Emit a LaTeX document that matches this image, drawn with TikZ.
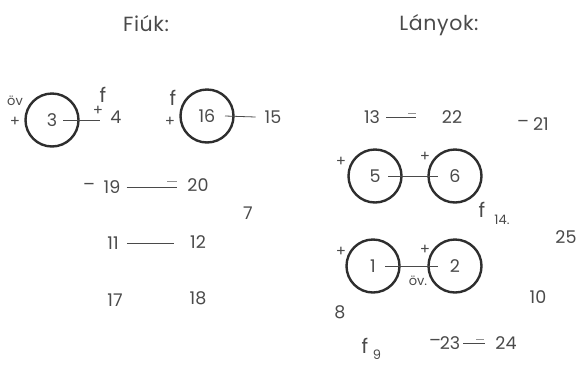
\documentclass[tikz,border=0pt]{standalone}
\usepackage{fontspec}
\setmainfont{Poppins}
\definecolor{ink}{HTML}{4A4A4A}
\definecolor{rim}{HTML}{2E2E2E}
\begin{document}
\begin{tikzpicture}[x=1pt,y=-1pt,
  every node/.style={text=ink,inner sep=0pt,font=\fontsize{17.5}{17.5}\selectfont},
  kid/.style={circle,draw=rim,line width=2.4pt,minimum size=53pt},
  tie/.style={draw=ink,line width=0.8pt},
  tick/.style={draw=ink!60,line width=0.6pt},
  sign/.style={font=\fontsize{15}{15}\selectfont},
  letter/.style={font=\fontsize{20}{20}\selectfont},
  sub/.style={font=\fontsize{13}{13}\selectfont},
  title/.style={font=\fontsize{20.5}{20.5}\selectfont\addfontfeature{LetterSpace=3}}]
  \useasboundingbox (0,0) rectangle (578,365);
  \node[title] (boys) at (146,24) {Fiúk:};
  \node[title] (girls) at (439,25) {Lányok:};
  % boys
  \node[kid] (c3) at (52,120) {3};
  \node[sub] (ov3) at (15,101) {öv};
  \node[sign] (pl3) at (15,122) {+};
  \node[letter] (f4) at (103,95) {f};
  \node[sign] (pl4) at (98,111) {+};
  \node (n4) at (116,117) {4};
  \coordinate (e4) at (100,120);
  \draw[tie] ([xshift=11pt]c3.center) -- (e4);
  \node[kid] (c16) at (207,116) {16};
  \node[letter] (f16) at (173,98) {f};
  \node[sign] (pl16) at (170,122) {+};
  \node (n15) at (273,117) {15};
  \draw[tie] ([xshift=18pt]c16.center) -- ([xshift=-9pt]n15.west);
  \node (m19) at (89,187) {–};
  \node (n19) at (112,187) {19};
  \node (n20) at (198,185) {20};
  \draw[tie,shorten <=6pt,shorten >=10pt] (n19.east) -- (n20.west |- n19.east);
  \draw[tick] (167,181) -- (177,181);
  \node (n7) at (248,213) {7};
  \node (n11) at (113,243) {11};
  \node (n12) at (198,242) {12};
  \draw[tie,shorten <=8pt,shorten >=16pt] (n11.east) -- (n12.west |- n11.east);
  \node (n17) at (115,300) {17};
  \node (n18) at (198,298) {18};
  % girls
  \node (n13) at (372,117) {13};
  \node (n22) at (452,117) {22};
  \draw[tie,shorten <=6pt,shorten >=26pt] (n13.east) -- (n22.west |- n13.east);
  \draw[tick] (408,113) -- (416,113);
  \node (m21) at (523,124) {–};
  \node (n21) at (541,124) {21};
  \node[kid] (c5) at (375,176) {5};
  \node[kid] (c6) at (455,176) {6};
  \node[sign] (pl5) at (341,162) {+};
  \node[sign] (pl6) at (425,157) {+};
  \draw[tie] ([xshift=13pt]c5.center) -- ([xshift=-17pt]c6.center);
  \node[letter] (f14) at (482,210) {f};
  \node[sub] (n14) at (502,220) {14.};
  \node (n25) at (566,237) {25};
  \node[kid] (c1) at (373,266) {1};
  \node[kid] (c2) at (455,266) {2};
  \node[sign] (pl1) at (341,252) {+};
  \node[sign] (pl2) at (425,250) {+};
  \node[sub] (ov2) at (418,281) {öv.};
  \draw[tie] ([xshift=12pt]c1.center) -- ([xshift=-17pt]c2.center);
  \node (n10) at (538,297) {10};
  \node (n8) at (340,312) {8};
  \node[letter] (f9) at (365,346) {f};
  \node[sub] (n9) at (377,355) {9};
  \node (m23) at (435,343) {–};
  \node (n23) at (450,343) {23};
  \node (n24) at (506,343) {24};
  \draw[tie,shorten <=3pt,shorten >=10pt] (n23.east) -- (n24.west |- n23.east);
  \draw[tick] (476,339) -- (484,339);
\end{tikzpicture}
\end{document}
